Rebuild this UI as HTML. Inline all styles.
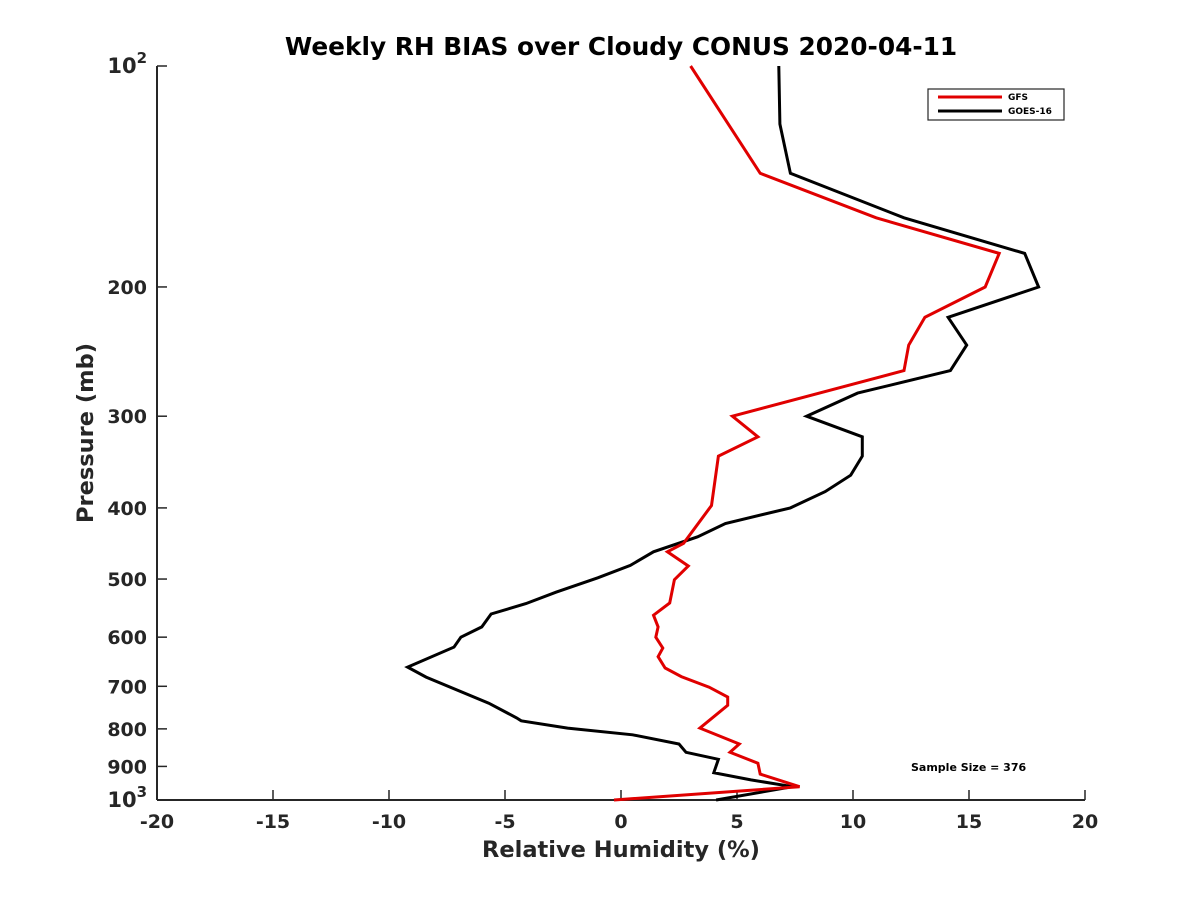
<!DOCTYPE html>
<html><head><meta charset="utf-8"><style>
body{margin:0;background:#fff}
svg text{font-family:"DejaVu Sans","Liberation Sans",sans-serif;font-weight:bold;fill:#262626}
</style></head><body>
<svg id="chart" width="1200" height="900" viewBox="0 0 1200 900" xmlns="http://www.w3.org/2000/svg">
<rect width="1200" height="900" fill="#fff"/>
<g id="axes"></g>
<g id="series"></g>
<text x="621" y="55" text-anchor="middle" font-size="24.8" style="fill:#000">Weekly RH BIAS over Cloudy CONUS 2020-04-11</text>
<text x="621" y="857" text-anchor="middle" font-size="22.5">Relative Humidity (%)</text>
<text transform="translate(93,433) rotate(-90)" text-anchor="middle" font-size="22.5">Pressure (mb)</text>
<g>
<rect x="928" y="89" width="136" height="31" fill="#fff" stroke="#262626" stroke-width="1.2"/>
<line x1="938" y1="97" x2="1002" y2="97" stroke="#e00000" stroke-width="3"/>
<text x="1008" y="100" font-size="9" style="fill:#000">GFS</text>
<line x1="938" y1="111" x2="1002" y2="111" stroke="#000" stroke-width="3"/>
<text x="1008" y="114" font-size="9" style="fill:#000">GOES-16</text>
</g>
<text x="911" y="771" font-size="11" style="fill:#000">Sample Size = 376</text>
</svg>
<script>
const xTicks=[-20,-15,-10,-5,0,5,10,15,20];
const yTicks=[100,200,300,400,500,600,700,800,900,1000];
const gfsRH=[3.0,6.0,11.0,16.3,15.7,13.1,12.4,12.2,4.8,5.9,4.2,3.9,2.7,2.0,2.9,2.3,2.1,1.4,1.6,1.5,1.8,1.6,1.9,2.6,3.8,4.6,4.6,3.4,5.1,4.7,5.9,6.0,7.7,-0.3];
const gfsP=[100,140,161,180,200,220,240,260,300,320,340,397,447,459,480,501,539,560,581,600,621,638,661,679,702,724,743,798,839,861,891,922,959,1000];
const goesRH=[6.8,6.85,7.3,12.2,17.4,18.0,14.1,14.9,14.2,10.2,8.0,10.4,10.4,9.9,8.8,7.3,4.5,3.3,1.4,0.4,-1.0,-2.8,-4.1,-5.6,-6.0,-6.9,-7.2,-9.2,-8.4,-5.7,-4.5,-4.3,-2.3,0.5,2.5,2.8,4.2,4.0,5.6,7.4,4.1];
const goesP=[100,120,140,161,180,200,220,240,260,279,300,320,340,361,380,400,420,438,459,479,498,521,540,558,581,600,619,659,680,738,773,780,798,815,839,861,880,918,939,959,1000];
const NS="http://www.w3.org/2000/svg";
const X0=157,X1=1085,Y0=66,Y1=800;
function xs(v){return X0+(v+20)/40*(X1-X0);}
function ys(p){return Y0+(Math.log10(p)-2)*(Y1-Y0);}
function mk(t,a,parent){const e=document.createElementNS(NS,t);for(const k in a)e.setAttribute(k,a[k]);parent.appendChild(e);return e;}
const axes=document.getElementById('axes');
const la=mk('line',{x1:X0,y1:Y0,x2:X0,y2:Y1,stroke:'#262626','stroke-width':2},axes);


const ba=mk('line',{x1:X0,y1:Y1,x2:X1,y2:Y1,stroke:'#262626','stroke-width':2},axes);


xTicks.forEach(v=>{
 const x=xs(v);
 mk('line',{x1:x,y1:Y1,x2:x,y2:Y1-10,stroke:'#262626','stroke-width':1.5},axes);
 const t=mk('text',{x:x,y:Y1+28,'text-anchor':'middle','font-size':19},axes);
 t.textContent=String(v);
 
 
});
yTicks.forEach(p=>{
 const y=ys(p);
 mk('line',{x1:X0,y1:y,x2:X0+10,y2:y,stroke:'#262626','stroke-width':1.5},axes);
 const t=mk('text',{x:X0-10,y:y+7,'text-anchor':'end','font-size':19},axes);
 if(p===100||p===1000){
  const tb=mk('tspan',{'font-size':21},t);tb.textContent='10';
  const ts=mk('tspan',{dy:-10,'font-size':15},t);ts.textContent=p===100?'2':'3';
 } else t.textContent=String(p);
 
 
});
const ser=document.getElementById('series');
function line(rh,p,color,name){
 const pts=rh.map((v,i)=>xs(v).toFixed(1)+','+ys(p[i]).toFixed(1)).join(' ');
 const pl=mk('polyline',{points:pts,fill:'none',stroke:color,'stroke-width':3,'stroke-linejoin':'miter'},ser);
 
 
}
line(goesRH,goesP,'#000','goes16-line');
line(gfsRH,gfsP,'#e00000','gfs-line');
</script>
</body></html>
